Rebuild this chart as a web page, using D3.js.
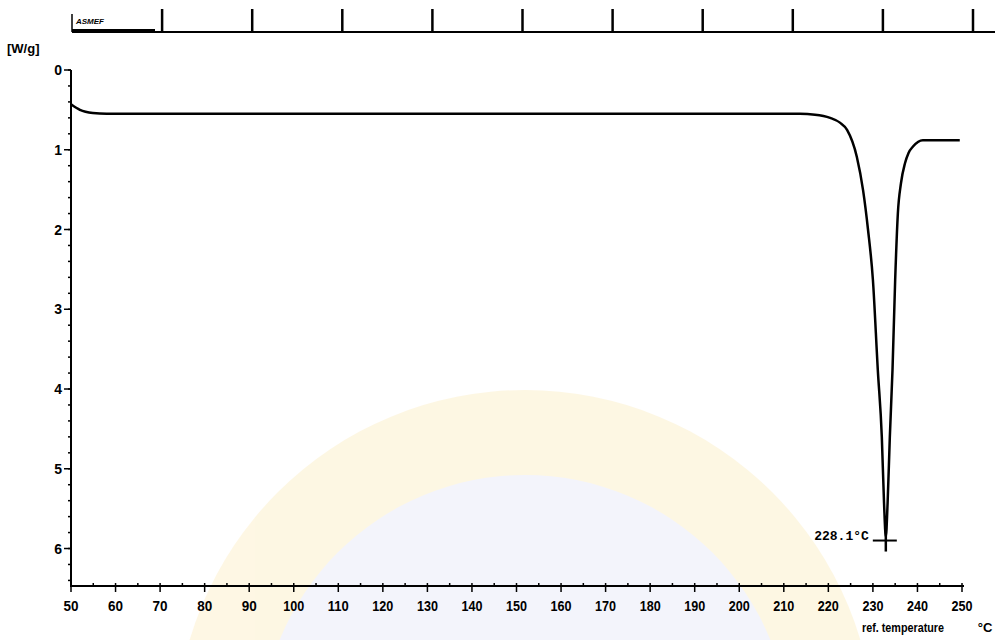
<!DOCTYPE html>
<html>
<head>
<meta charset="utf-8">
<script src="https://cdn.jsdelivr.net/npm/d3@7"></script>
<style>
  body { margin: 0; background: #fff; }
  text { font-family: "Liberation Sans", Arial, sans-serif; font-weight: bold; fill: #000; }
</style>
</head>
<body>
<div id="chart"></div>
<script>
// DSC trace
const temps = [50, 52, 54.9, 58, 62.6, 80, 100, 130, 160, 190, 205, 213.6, 217, 220.4, 222.6, 224.2, 226.4,
  227.8, 228.9, 230, 231.1, 232, 232.5, 232.9, 233.3, 233.8, 234.4, 235, 235.6, 236.3, 237.2, 238, 239, 241.2, 245, 249.5];
const heatFlow = [0.43, 0.5, 0.54, 0.55, 0.55, 0.55, 0.55, 0.55, 0.55, 0.55, 0.55, 0.55, 0.56, 0.6, 0.66, 0.75, 1.09,
  1.51, 2.0, 2.63, 3.76, 4.6, 5.43, 5.85, 5.43, 4.6, 3.76, 2.63, 1.8, 1.42, 1.17, 1.04, 0.96, 0.88, 0.88, 0.88];

const xTicks = d3.range(50, 251, 10);
const yTicks = [0, 1, 2, 3, 4, 5, 6];
const timeTicks = [1, 2, 3, 4, 5, 6, 7, 8, 9, 10];
const peakTemp = 232.9, peakValue = 5.9, peakLabel = "228.1°C";

const W = 995, H = 640;
const svg = d3.select("#chart").append("svg").attr("width", W).attr("height", H);

// faint watermark behind the plot
const wm = svg.append("g").attr("opacity", 0.3);
wm.append("circle").attr("cx", 525).attr("cy", 740).attr("r", 350).attr("fill", "#fbe6a6");
wm.append("circle").attr("cx", 525).attr("cy", 740).attr("r", 265).attr("fill", "#d9dcf4");

const x = d3.scaleLinear().domain([50, 250]).range([71, 962]);
const y = d3.scaleLinear().domain([0, 6.47]).range([70, 586]);
const tScale = d3.scaleLinear().domain([0, 10]).range([72, 973]);

// top time bar
svg.append("line").attr("x1", 72).attr("x2", 995).attr("y1", 32).attr("y2", 32)
  .attr("stroke", "#000").attr("stroke-width", 2);
svg.selectAll(".tt").data(timeTicks).enter().append("line")
  .attr("x1", d => tScale(d)).attr("x2", d => tScale(d))
  .attr("y1", 9).attr("y2", 32).attr("stroke", "#000").attr("stroke-width", 2.5);
svg.append("line").attr("x1", tScale(0)).attr("x2", tScale(0)).attr("y1", 14).attr("y2", 32)
  .attr("stroke", "#000").attr("stroke-width", 1.5);
svg.append("line").attr("x1", 72).attr("x2", 155).attr("y1", 30.5).attr("y2", 30.5)
  .attr("stroke", "#000").attr("stroke-width", 3);
svg.append("text").attr("x", 76).attr("y", 24).style("font-size", "8px").style("font-style", "italic")
  .text("ASMEF");

// y axis
svg.append("line").attr("x1", 71).attr("x2", 71).attr("y1", y(0)).attr("y2", y(6.47))
  .attr("stroke", "#000").attr("stroke-width", 2);
svg.selectAll(".ymin").data(d3.range(0, 6.41, 0.2)).enter().append("line")
  .attr("x1", 68).attr("x2", 71).attr("y1", d => y(d)).attr("y2", d => y(d))
  .attr("stroke", "#000").attr("stroke-width", 1.5);
svg.selectAll(".ymaj").data(yTicks).enter().append("line")
  .attr("x1", 64).attr("x2", 71).attr("y1", d => y(d)).attr("y2", d => y(d))
  .attr("stroke", "#000").attr("stroke-width", 1.5);
svg.selectAll(".ylab").data(yTicks).enter().append("text")
  .attr("x", 62).attr("y", d => y(d) + 5).attr("text-anchor", "end")
  .style("font-size", "14px").text(d => d);
svg.append("text").attr("x", 7).attr("y", 53).style("font-size", "13px").text("[W/g]");

// x axis
svg.append("line").attr("x1", 70).attr("x2", 964).attr("y1", 586).attr("y2", 586)
  .attr("stroke", "#000").attr("stroke-width", 2);
svg.selectAll(".xmin").data(d3.range(50, 251, 5)).enter().append("line")
  .attr("x1", d => x(d)).attr("x2", d => x(d)).attr("y1", 583).attr("y2", 586)
  .attr("stroke", "#000").attr("stroke-width", 1.5);
svg.selectAll(".xmaj").data(xTicks).enter().append("line")
  .attr("x1", d => x(d)).attr("x2", d => x(d)).attr("y1", 586).attr("y2", 592)
  .attr("stroke", "#000").attr("stroke-width", 1.5);
svg.selectAll(".xlab").data(xTicks).enter().append("text")
  .attr("x", d => x(d)).attr("y", 611).attr("text-anchor", "middle")
  .style("font-size", "14px").attr("textLength", d => d >= 100 ? 21 : 15)
  .attr("lengthAdjust", "spacingAndGlyphs").text(d => d);
svg.append("text").attr("x", 903).attr("y", 632).attr("text-anchor", "middle")
  .style("font-size", "12px").attr("textLength", 82).attr("lengthAdjust", "spacingAndGlyphs")
  .text("ref. temperature");
svg.append("text").attr("x", 985).attr("y", 632).attr("text-anchor", "middle")
  .style("font-size", "13px").text("°C");

// curve
const pts = temps.map((t, i) => [t, heatFlow[i]]);
svg.append("path").datum(pts)
  .attr("d", d3.line().x(d => x(d[0])).y(d => y(d[1])).curve(d3.curveMonotoneX))
  .attr("fill", "none").attr("stroke", "#000").attr("stroke-width", 2.5);

// peak marker
const px = x(peakTemp), py = y(peakValue);
svg.append("line").attr("x1", px - 13).attr("x2", px + 11).attr("y1", py).attr("y2", py)
  .attr("stroke", "#000").attr("stroke-width", 2);
svg.append("line").attr("x1", px).attr("x2", px).attr("y1", py - 22).attr("y2", py + 11)
  .attr("stroke", "#000").attr("stroke-width", 2.5);
svg.append("text").attr("x", px - 17).attr("y", py - 1).attr("text-anchor", "end")
  .style("font-family", "'Liberation Mono', 'DejaVu Sans Mono', monospace")
  .style("font-size", "13px").text(peakLabel);
</script>
</body>
</html>
